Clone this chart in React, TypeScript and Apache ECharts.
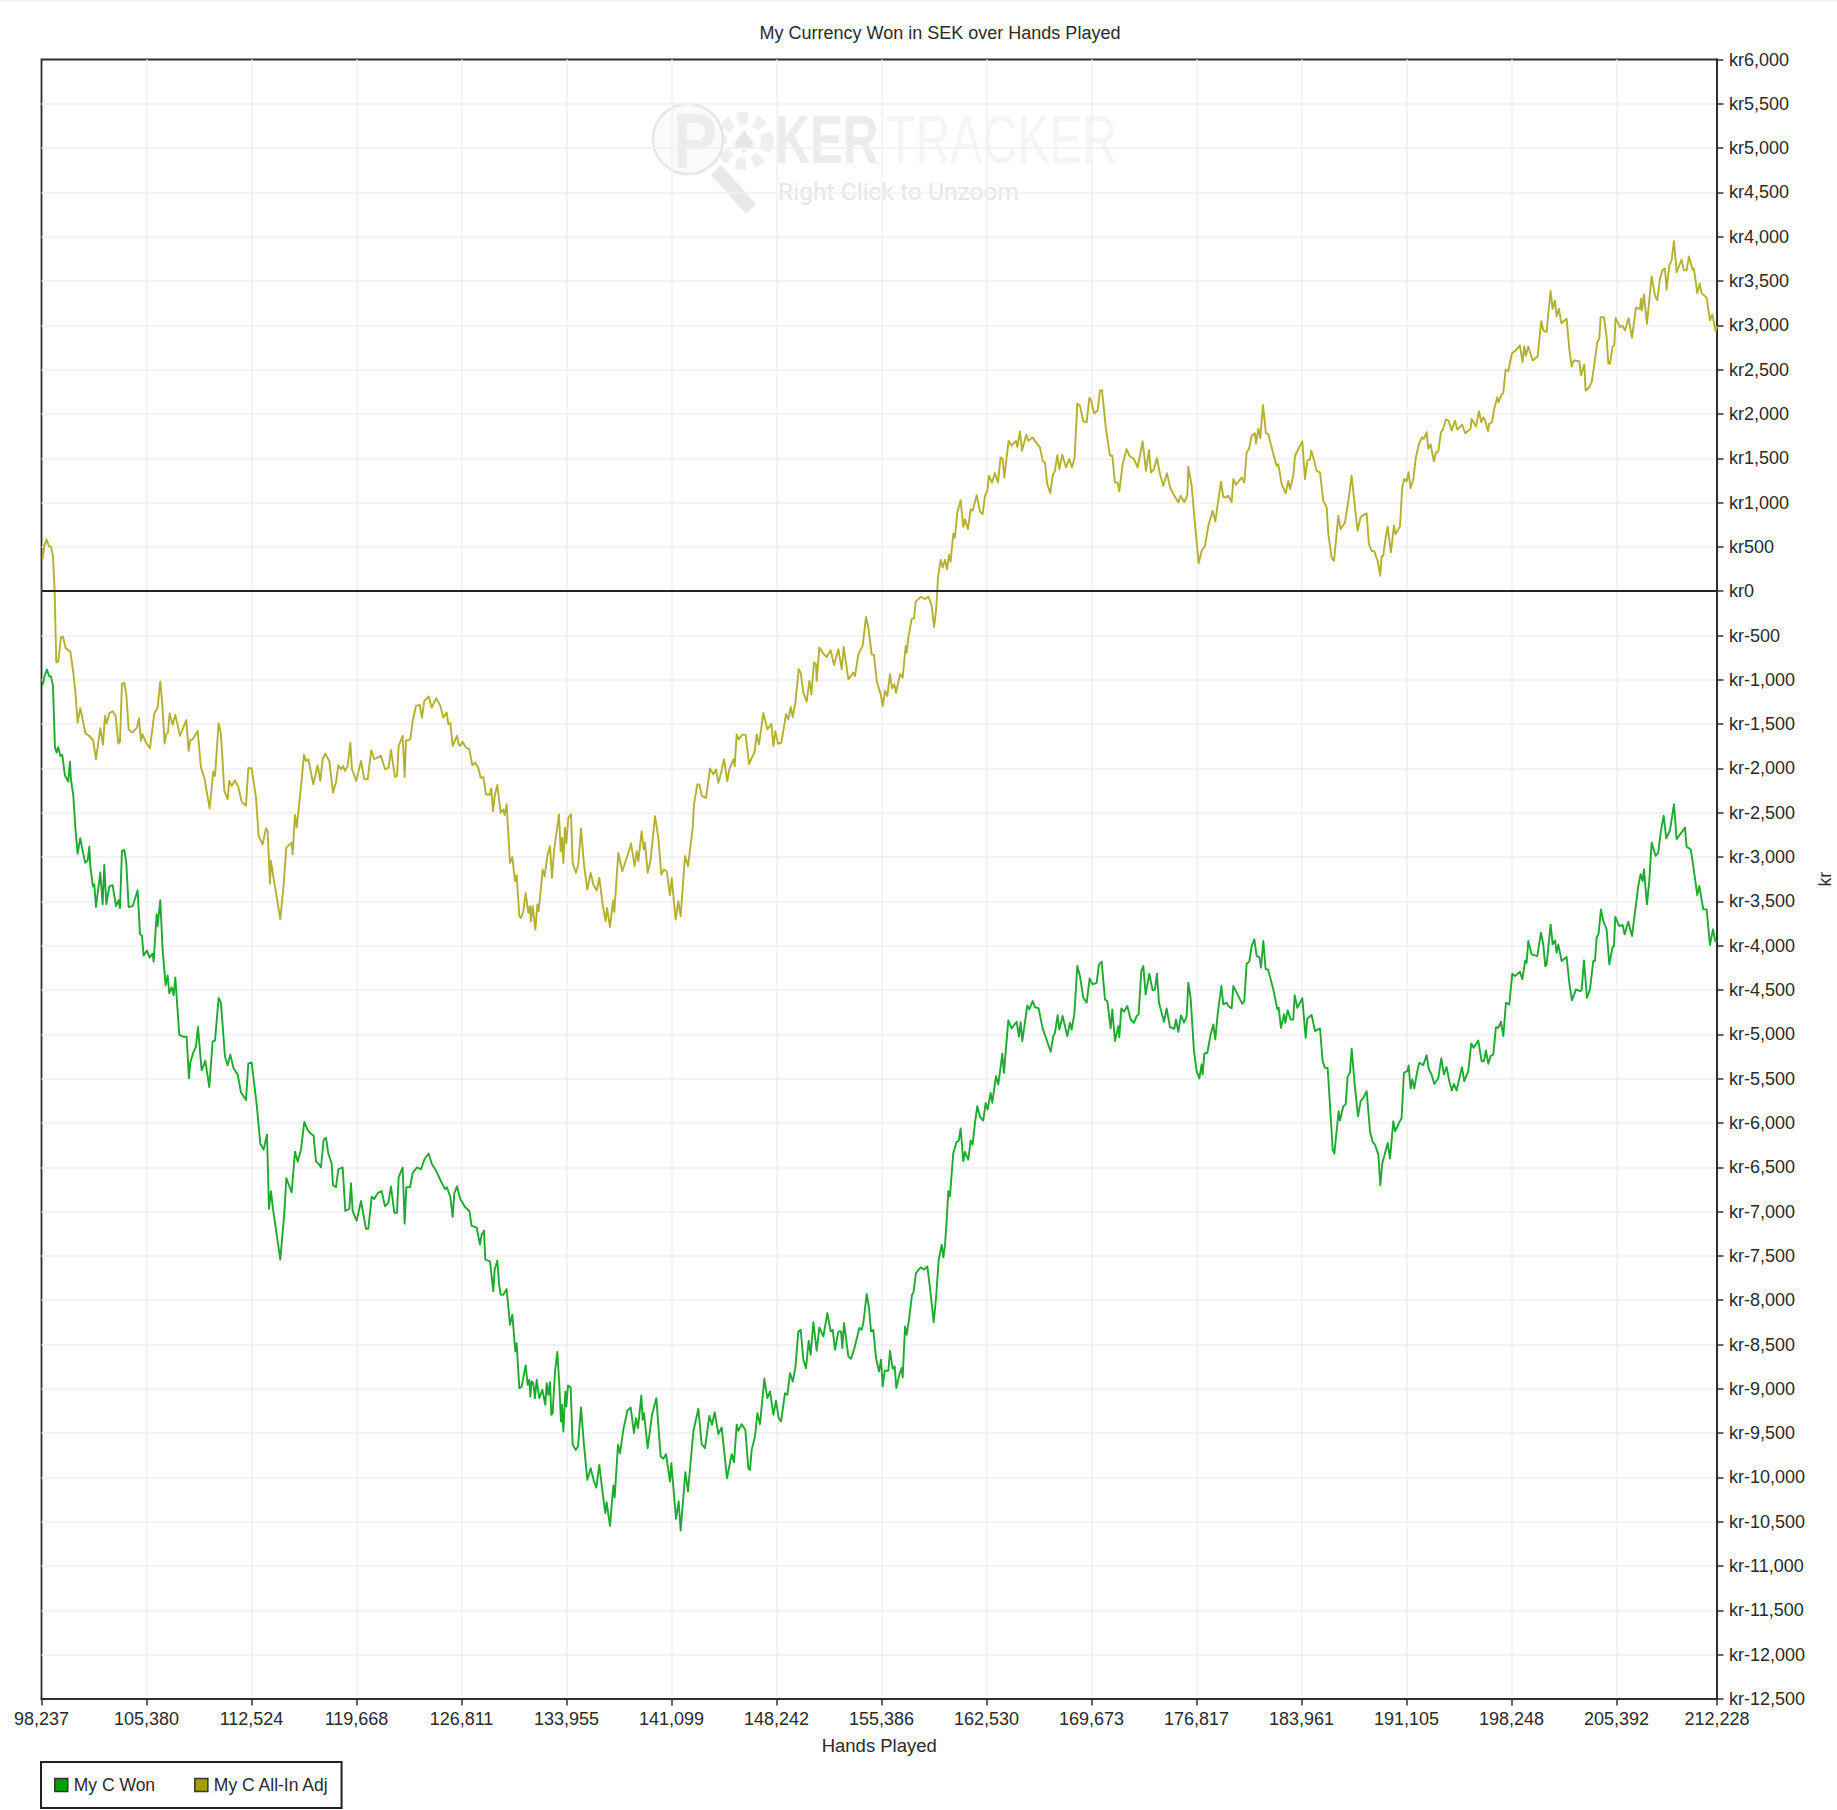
import React, { useEffect, useRef } from "react";
import * as echarts from "echarts";

const titleText = "My Currency Won in SEK over Hands Played";
const xName = "Hands Played";
const yName = "kr";
const handTicks = [98237, 105380, 112524, 119668, 126811, 133955, 141099, 148242, 155386, 162530, 169673, 176817, 183961, 191105, 198248, 205392, 212228];
const wonName = "My C Won";
const adjName = "My C All-In Adj";

const myCAllInAdj: [number, number][] = [
[98313,363],[98427,514],[98586,582],[98744,506],[98880,506],[99016,401],[99130,6],[99243,-804],[99379,-793],[99561,-521],[99697,-514],[99878,-642],[100196,-680],[100355,-860],[100536,-1124],[100695,-1482],[100876,-1320],[101058,-1463],[101216,-1602],[101489,-1632],[101761,-1689],[101942,-1896],[102237,-1546],[102418,-1734],[102555,-1406],[102668,-1493],[102849,-1376],[103076,-1354],[103280,-1406],[103462,-1719],[103575,-1696],[103711,-1049],[103870,-1034],[104006,-1162],[104165,-1557],[104414,-1595],[104732,-1538],[104868,-1436],[105004,-1689],[105095,-1613],[105344,-1707],[105616,-1771],[105911,-1380],[106138,-1312],[106319,-1018],[106456,-1274],[106614,-1719],[106728,-1613],[106841,-1595],[106954,-1380],[107159,-1508],[107340,-1395],[107658,-1632],[108088,-1455],[108247,-1802],[108361,-1681],[108519,-1670],[108860,-1576],[109086,-1990],[109313,-2103],[109676,-2449],[109926,-2035],[110039,-2084],[110288,-1489],[110447,-1613],[110674,-2253],[110901,-2347],[111014,-2140],[111173,-2197],[111400,-2133],[111627,-2208],[111853,-2374],[112148,-2419],[112307,-1997],[112534,-1997],[112829,-2329],[113010,-2762],[113282,-2856],[113509,-2675],[113622,-2705],[113781,-3300],[113849,-3044],[113985,-3195],[114484,-3703],[114711,-3307],[114892,-2893],[115255,-2837],[115323,-2969],[115482,-2524],[115596,-2667],[115936,-2133],[116095,-1847],[116231,-1915],[116390,-1896],[116730,-2178],[117024,-1964],[117206,-2140],[117365,-1896],[117546,-1832],[117818,-1915],[118068,-2272],[118272,-2159],[118431,-1964],[118612,-2009],[118748,-1971],[118884,-2028],[119066,-1971],[119247,-1707],[119360,-2009],[119655,-2140],[119973,-1915],[120200,-2122],[120426,-2122],[120676,-1794],[120880,-1896],[121334,-1858],[121606,-2009],[121855,-1990],[122014,-1794],[122286,-2095],[122422,-2084],[122536,-1745],[122808,-1632],[122944,-2095],[123035,-1689],[123329,-1670],[123488,-1470],[123715,-1293],[123964,-1282],[124123,-1425],[124282,-1237],[124577,-1188],[124781,-1312],[125099,-1207],[125371,-1293],[125575,-1425],[125802,-1369],[125915,-1500],[126051,-1489],[126210,-1745],[126505,-1632],[126618,-1726],
[126708,-1747],[126889,-1698],[127116,-1766],[127343,-1785],[127547,-1965],[127729,-1935],[127955,-1992],[128114,-2105],[128296,-2097],[128477,-2293],[128749,-2293],[128840,-2225],[128953,-2481],[129089,-2293],[129248,-2187],[129475,-2500],[129656,-2462],[129747,-2526],[129883,-2406],[130110,-3065],[130269,-3001],[130450,-3272],[130564,-3204],[130745,-3667],[130858,-3686],[131017,-3611],[131176,-3404],[131357,-3630],[131471,-3554],[131539,-3724],[131652,-3554],[131834,-3818],[131970,-3535],[132060,-3611],[132333,-3140],[132469,-3215],[132650,-2989],[132832,-2876],[132968,-3234],[133104,-2933],[133444,-2519],[133557,-2933],[133648,-2782],[133739,-3065],[133852,-2669],[133943,-2839],[134079,-2556],[134260,-2519],[134374,-3065],[134601,-3178],[134759,-3084],[134941,-2677],[135145,-3084],[135372,-3366],[135599,-3178],[135780,-3309],[136007,-3377],[136188,-3234],[136415,-3535],[136619,-3724],[136710,-3573],[136914,-3791],[137118,-3490],[137209,-3618],[137481,-2952],[137753,-3159],[138161,-2952],[138343,-2846],[138592,-3102],[138728,-2933],[138842,-3046],[139069,-2707],[139205,-2914],[139295,-2839],[139477,-3178],[139681,-3027],[139976,-2538],[140203,-2782],[140407,-3196],[140588,-3140],[140770,-3159],[140996,-3430],[141110,-3234],[141382,-3705],[141563,-3498],[141722,-3667],[142017,-2989],[142221,-3102],[142539,-2669],[142629,-2406],[142856,-2180],[142992,-2180],[143174,-2312],[143446,-2331],[143718,-1999],[143945,-2067],[144126,-2011],[144285,-2161],[144444,-2067],[144671,-1898],[144897,-2142],[145033,-2011],[145306,-1898],[145396,-1973],[145532,-1615],[145668,-1672],[145941,-1615],[146145,-1623],[146372,-1947],[146757,-1811],[146893,-1615],[147052,-1728],[147347,-1374],[147619,-1559],[147891,-1495],[148027,-1747],[148163,-1578],[148345,-1721],[148572,-1709],[148889,-1389],[149048,-1446],[149207,-1306],[149343,-1419],[149524,-1258],[149751,-881],[149887,-919],[150068,-1145],[150295,-1246],[150476,-1013],[150612,-1163],[150794,-806],[150930,-825],[150975,-1013],[151157,-636],[151429,-704],[151656,-742],[151928,-666],[152155,-832],[152450,-655],[152677,-881],[152813,-629],[153130,-994],[153312,-956],[153470,-919],[153584,-956],[153811,-712],[154105,-617],[154332,-290],[154491,-410],[154718,-712],[154877,-719],[155058,-1013],[155330,-1163],[155466,-1295],[155625,-1126],[155784,-1182],[155965,-937],[156101,-1096],[156260,-1050],[156373,-1145],[156646,-937],[156827,-975],[157031,-617],[157099,-693],[157213,-523],[157440,-309],[157599,-309],[157712,-117],[158052,-64],[158347,-90],[158574,-60],[158801,-166],[158960,-403],[159095,-222],[159231,154],
[159408,354],[159544,267],[159703,354],[159839,248],[159975,410],[160088,331],[160270,651],[160383,606],[160542,889],[160769,1028],[160950,727],[161063,813],[161268,700],[161449,926],[161585,907],[161857,1084],[162084,900],[162265,870],[162424,1077],[162583,1133],[162696,1303],[162900,1227],[163105,1333],[163309,1227],[163490,1510],[163626,1491],[163740,1284],[164034,1698],[164239,1642],[164533,1698],[164624,1630],[164806,1800],[164942,1585],[165236,1766],[165373,1698],[165667,1736],[165894,1679],[166166,1623],[166348,1472],[166507,1453],[166665,1209],[166869,1107],[167028,1303],[167187,1359],[167346,1536],[167482,1378],[167686,1540],[167935,1397],[168162,1491],[168344,1397],[168525,1510],[168707,2120],[168888,2093],[169115,1916],[169342,1905],[169523,2180],[169659,2150],[169841,2007],[170090,2037],[170249,2263],[170385,2270],[170657,1830],[170929,1529],[171088,1529],[171269,1227],[171451,1227],[171564,1126],[171791,1434],[172063,1604],[172245,1529],[172562,1491],[172812,1397],[173152,1690],[173379,1359],[173583,1593],[173719,1340],[173923,1378],[174127,1502],[174331,1322],[174558,1190],[174807,1333],[175012,1178],[175238,1096],[175579,1005],[175737,1077],[175987,1005],[176191,1084],[176259,1404],[176486,1190],[176713,757],[176962,316],[177166,456],[177393,512],[177620,738],[177915,907],[178096,787],[178482,1235],[178640,1066],[178867,1058],[178981,1077],[179207,1005],[179321,1265],[179503,1201],[179888,1284],[180069,1227],[180228,1566],[180387,1604],[180569,1754],[180795,1781],[180863,1668],[181022,1830],[181158,1728],[181339,2101],[181543,1781],[181702,1773],[182042,1547],[182269,1416],[182383,1434],[182609,1209],[182882,1107],[183063,1246],[183176,1152],[183403,1303],[183517,1529],[183743,1604],[184016,1690],[184197,1265],[184356,1472],[184537,1491],[184628,1585],[184764,1510],[184991,1359],[185218,1340],[185444,1020],[185671,945],[185785,644],[186011,380],[186170,343],[186465,851],[186624,700],[186919,776],[187213,1096],
[187368,1305],[187572,985],[187776,683],[187980,834],[188116,853],[188388,879],[188547,533],[188729,457],[188910,450],[189137,344],[189318,175],[189409,390],[189522,401],[189636,552],[189817,729],[190044,439],[190248,740],[190362,646],[190656,729],[190815,1173],[190951,1267],[191110,1241],[191246,1342],[191382,1162],[191564,1267],[191745,1512],[191949,1662],[192153,1737],[192289,1719],[192471,1794],[192584,1606],[192743,1655],[192970,1467],[193106,1568],[193265,1579],[193446,1794],[193559,1813],[193786,1937],[193968,1926],[194172,1813],[194399,1926],[194557,1824],[194875,1881],[195102,1783],[195465,1832],[195533,1945],[195827,1858],[196032,2031],[196190,1907],[196326,1963],[196462,1926],[196644,1805],[196735,1888],[196916,1907],[197075,2058],[197279,2189],[197370,2133],[197574,2220],[197687,2235],[197846,2502],[198027,2483],[198277,2686],[198526,2716],[198821,2773],[199003,2585],[199116,2762],[199229,2660],[199388,2762],[199683,2604],[200023,2649],[200273,3048],[200409,2943],[200636,2924],[200749,3131],[200908,3387],[201044,3187],[201203,3281],[201316,3101],[201475,3187],[201634,3025],[201996,3074],[202178,2735],[202337,2536],[202473,2604],[202859,2596],[202972,2435],[203198,2559],[203289,2265],[203539,2302],[203698,2359],[203856,2529],[204083,2811],[204219,2848],[204310,3093],[204537,3093],[204718,2867],[204832,2574],[204945,2566],[205127,2762],[205240,2773],[205331,3085],[205625,2980],[205784,2999],[205965,2943],[206215,3082],[206442,2860],[206714,3198],[206986,3187],[207054,3300],[207122,3169],[207258,3349],[207462,3017],[207780,3552],[208007,3338],[208165,3281],[208347,3526],[208528,3627],[208687,3639],[208800,3402],[208982,3676],[209141,3733],[209300,3951],[209481,3601],[209821,3741],[209980,3620],[210161,3620],[210320,3778],[210569,3627],[210660,3639],[210887,3364],[211046,3470],[211182,3364],[211522,3311],[211749,3056],[211908,3123],[212134,2935],[212228,2990],
];

const myCWon: [number, number][] = [
[98313,-1062],[98472,-941],[98608,-883],[98744,-955],[98880,-964],[99016,-1062],[99153,-1759],[99266,-1821],[99379,-1759],[99515,-1857],[99652,-1848],[99833,-2080],[100060,-2147],[100173,-1924],[100241,-2125],[100400,-2303],[100536,-2661],[100695,-2960],[100876,-2786],[101035,-2929],[101216,-3063],[101375,-3040],[101489,-2884],[101557,-3107],[101738,-3331],[101829,-3308],[101942,-3563],[102237,-3174],[102396,-3532],[102509,-3085],[102645,-3532],[102849,-3331],[103076,-3317],[103303,-3554],[103462,-3487],[103575,-3576],[103711,-2929],[103870,-2920],[104006,-3063],[104165,-3563],[104437,-3554],[104777,-3375],[104936,-3866],[105072,-3889],[105185,-4112],[105412,-4054],[105594,-4135],[105798,-4090],[105866,-4179],[106070,-3643],[106138,-3777],[106319,-3487],[106478,-4045],[106682,-4447],[106818,-4335],[106932,-4536],[107091,-4469],[107227,-4559],[107340,-4358],[107612,-5005],[107907,-5028],[108111,-5028],[108270,-5497],[108361,-5318],[108565,-5206],[108746,-5139],[108882,-4916],[109132,-5407],[109381,-5296],[109653,-5595],[109880,-5081],[110039,-5072],[110288,-4590],[110447,-4648],[110719,-5251],[110901,-5349],[111082,-5229],[111309,-5385],[111581,-5452],[111808,-5653],[112148,-5742],[112307,-5331],[112534,-5318],[112874,-5787],[113123,-6234],[113350,-6301],[113577,-6131],[113713,-6970],[113849,-6769],[113985,-6970],[114484,-7542],[114756,-7015],[114892,-6622],[115255,-6783],[115482,-6323],[115664,-6435],[115890,-6301],[116117,-5988],[116344,-6077],[116571,-6122],[116752,-6144],[116911,-6435],[117070,-6457],[117251,-6501],[117433,-6189],[117591,-6167],[117750,-6345],[117977,-6457],[118068,-6702],[118272,-6725],[118431,-6524],[118725,-6501],[118907,-6993],[119179,-6970],[119292,-6680],[119406,-6993],[119678,-7104],[119973,-6881],[120313,-7194],[120472,-7194],[120699,-6836],[120880,-6859],[121107,-6792],[121379,-6769],[121606,-6939],[121833,-6903],[122014,-6716],[122241,-7015],[122422,-7015],[122536,-6613],[122808,-6501],[122944,-7136],[123057,-6725],[123307,-6725],[123488,-6568],[123783,-6501],[124055,-6524],[124282,-6412],[124577,-6345],[124781,-6457],[125099,-6546],[125416,-6658],[125688,-6747],[125824,-6725],[126051,-6836],[126210,-7060],[126323,-6792],[126505,-6716],[126731,-6859],[127049,-6948],[127344,-6993],[127503,-7162],[127843,-7180],[128069,-7373],
[128182,-7260],[128341,-7215],[128432,-7543],[128749,-7561],[128976,-7900],[129067,-7655],[129248,-7554],[129384,-7844],[129475,-7938],[129657,-7938],[129883,-7874],[130110,-8277],[130269,-8164],[130473,-8578],[130564,-8484],[130745,-8992],[130904,-8973],[131176,-8736],[131312,-8954],[131426,-8898],[131494,-9086],[131584,-8917],[131698,-8936],[131811,-9105],[131925,-8898],[132106,-9105],[132310,-9011],[132514,-9180],[132605,-8936],[132718,-9067],[132832,-8924],[132923,-9293],[133013,-9274],[133172,-8804],[133331,-8585],[133467,-8954],[133580,-9369],[133648,-9180],[133739,-9482],[133875,-9030],[133943,-9199],[134057,-8962],[134238,-8985],[134374,-9632],[134578,-9689],[134737,-9651],[134941,-9210],[135145,-9632],[135372,-10027],[135599,-9896],[135826,-10046],[135984,-10114],[136188,-9858],[136415,-10178],[136597,-10404],[136687,-10280],[136914,-10547],[137141,-10091],[137232,-10227],[137459,-9632],[137595,-9726],[137821,-9463],[138093,-9248],[138320,-9210],[138547,-9500],[138683,-9331],[138819,-9444],[139046,-9075],[139137,-9350],[139228,-9274],[139478,-9670],[139772,-9293],[140067,-9105],[140362,-9764],[140543,-9790],[140725,-9737],[140997,-10046],[141087,-9839],[141405,-10468],[141586,-10272],[141723,-10600],[142040,-9941],[142221,-10159],[142584,-9482],[142925,-9225],[143151,-9625],[143378,-9670],[143673,-9305],[143854,-9406],[144036,-9263],[144285,-9512],[144512,-9436],[144875,-10009],[145192,-9737],[145351,-9828],[145533,-9406],[145646,-9474],[145873,-9399],[146122,-9463],[146326,-9896],[146440,-9915],[146553,-9689],[146780,-9538],[146939,-9274],[147120,-9399],[147415,-8887],[147619,-9105],[147801,-9030],[148027,-9293],[148209,-9135],[148390,-9331],[148549,-9369],[148821,-9049],[148980,-9067],[149161,-8823],[149343,-8917],[149524,-8766],[149728,-8352],[149887,-8333],[150069,-8672],[150250,-8766],[150432,-8457],[150568,-8616],[150749,-8247],[150976,-8570],[151158,-8307],[151430,-8408],[151702,-8145],[151928,-8352],[152065,-8333],[152223,-8559],[152450,-8352],[152632,-8352],[152723,-8540],[152836,-8258],[153131,-8634],[153312,-8661],[153516,-8559],[153879,-8314],[154038,-8333],[154151,-8258],[154378,-7930],[154537,-8088],[154673,-8352],[154832,-8337],[155013,-8653],[155217,-8804],[155353,-8672],[155467,-8973],[155603,-8796],[155852,-8796],[155965,-8570],[156147,-8774],[156283,-8747],[156396,-8992],[156600,-8841],[156759,-8766],[156827,-8872],[156986,-8296],[157099,-8390],[157258,-8220],[157462,-7938],[157553,-7919],[157734,-7693],[158052,-7629],[158279,-7655],[158505,-7618],[158687,-7863],[158936,-8247],[159095,-7976],[159277,-7543],[159481,-7373],[159594,-7516],[159707,-7373],
[159816,-7110],[159930,-6771],[160043,-6827],[160270,-6338],[160497,-6213],[160633,-6206],[160769,-6063],[160950,-6432],[161064,-6326],[161291,-6413],[161449,-6198],[161585,-6244],[161744,-5999],[161903,-5811],[162084,-5931],[162311,-5973],[162470,-5773],[162606,-5848],[162810,-5660],[162924,-5773],[163173,-5472],[163332,-5566],[163604,-5219],[163717,-5434],[164012,-4843],[164239,-4933],[164579,-4858],[164738,-5027],[164851,-4862],[164965,-5076],[165305,-4674],[165441,-4719],[165668,-4625],[165827,-4692],[166076,-4707],[166348,-4933],[166575,-5039],[166893,-5197],[167074,-5020],[167187,-4982],[167369,-4783],[167482,-4945],[167709,-4794],[168027,-5020],[168208,-4869],[168321,-4945],[168503,-4775],[168707,-4229],[168888,-4342],[169115,-4587],[169342,-4643],[169546,-4369],[169750,-4436],[170022,-4418],[170181,-4210],[170363,-4180],[170589,-4606],[170748,-4625],[170975,-4933],[171088,-4719],[171270,-5076],[171497,-4907],[171565,-5031],[171701,-4707],[171882,-4745],[172109,-4681],[172336,-4832],[172563,-4869],[172744,-4794],[172880,-4775],[173062,-4286],[173198,-4229],[173356,-4549],[173606,-4316],[173833,-4504],[173991,-4493],[174127,-4316],[174264,-4643],[174604,-4858],[174785,-4707],[175012,-4918],[175307,-4937],[175420,-4832],[175579,-4971],[175760,-4786],[175965,-4869],[176146,-4794],[176259,-4418],[176418,-4594],[176645,-5189],[176826,-5415],[177008,-5498],[177167,-5340],[177235,-5453],[177348,-5219],[177552,-5208],[177779,-5001],[177960,-4888],[178096,-5058],[178255,-4775],[178505,-4455],[178641,-4662],[178868,-4643],[178981,-4681],[179208,-4707],[179321,-4455],[179548,-4530],[179775,-4606],[179934,-4655],[180070,-4625],[180228,-4203],[180410,-4180],[180569,-4003],[180750,-3928],[180909,-4116],[181090,-4128],[181204,-4248],[181362,-3947],[181521,-4267],[181680,-4267],[182043,-4493],[182315,-4719],[182406,-4700],[182564,-4926],[182769,-4775],[182859,-4869],[183018,-4730],[183222,-4832],[183404,-4832],[183494,-4557],[183676,-4700],[184016,-4594],[184243,-5039],[184356,-4820],[184651,-4783],[184878,-4963],[185218,-4933],[185399,-5302],[185558,-5378],[185739,-5378],[185966,-5980],[186080,-6300],[186193,-6345],[186488,-5867],[186579,-5973],[186806,-5811],[186964,-5792],[187100,-5472],[187259,-5434],[187373,-5163],[187600,-5604],[187804,-5924],[187985,-5754],[188166,-5716],[188393,-5641],[188620,-6093],[188801,-6213],[188960,-6244],[189187,-6357],[189323,-6703],[189459,-6451],[189618,-6357],[189822,-6225],[189981,-6402],[190208,-5980],[190321,-6093],[190661,-5980],
[190770,-5943],[190929,-5434],[191156,-5416],[191246,-5352],[191383,-5611],[191496,-5510],[191632,-5611],[191836,-5416],[191972,-5321],[192244,-5348],[192471,-5235],[192630,-5397],[192811,-5453],[192993,-5559],[193265,-5498],[193469,-5272],[193651,-5453],[193832,-5370],[194013,-5529],[194195,-5634],[194331,-5559],[194512,-5634],[194875,-5370],[195034,-5529],[195306,-5416],[195510,-5103],[195669,-5152],[195987,-5069],[196213,-5303],[196372,-5303],[196508,-5182],[196667,-5333],[196826,-5246],[197007,-5227],[197189,-4919],[197347,-4926],[197529,-4858],[197688,-5020],[197869,-4644],[198096,-4663],[198300,-4316],[198481,-4343],[198822,-4294],[198981,-4380],[199184,-4166],[199275,-4192],[199389,-3947],[199616,-4098],[200001,-4117],[200251,-3853],[200409,-3985],[200545,-4230],[200636,-4211],[200772,-3985],[200908,-3759],[201044,-3985],[201203,-3940],[201316,-4079],[201430,-3985],[201657,-4173],[201997,-4128],[202178,-4418],[202360,-4617],[202632,-4493],[202904,-4512],[203017,-4504],[203176,-4166],[203380,-4587],[203584,-4493],[203811,-4173],[203925,-4173],[204038,-3910],[204174,-3864],[204333,-3590],[204492,-3721],[204718,-3815],[204900,-4211],[205127,-4015],[205217,-4004],[205308,-3676],[205580,-3778],[205807,-3766],[205943,-3872],[206193,-3729],[206442,-3891],[206646,-3627],[206873,-3326],[207032,-3194],[207168,-3270],[207259,-3138],[207463,-3533],[207622,-3270],[207780,-2837],[208053,-2987],[208234,-2949],[208393,-2724],[208597,-2535],[208779,-2788],[209028,-2697],[209300,-2404],[209481,-2799],[210048,-2667],[210162,-2885],[210434,-2912],[210570,-3051],[210887,-3428],[211023,-3326],[211295,-3590],[211522,-3590],[211749,-3992],[211953,-3815],[212112,-3947],[212228,-3950],
];

const FONT = "'Liberation Sans', Arial, sans-serif";
const INK = "#2a2a2a";

const formatHands = (v: number) => v.toLocaleString("en-US");
const formatKr = (v: number) => "kr" + (v < 0 ? "-" : "") + Math.abs(v).toLocaleString("en-US");

export default function App() {
  const ref = useRef<HTMLDivElement>(null);
  useEffect(() => {
    const chart = echarts.init(ref.current!, undefined, { renderer: "svg" });
    chart.setOption({
      animation: false,
      backgroundColor: "#ffffff",
      title: {
        text: titleText,
        left: 935,
        top: 19,
        textAlign: "center",
        textStyle: { fontFamily: FONT, fontSize: 18, fontWeight: "normal", color: INK },
      },
      grid: {
        left: 41.5,
        right: 120,
        top: 59.5,
        bottom: 111,
        show: true,
        outerBoundsMode: "none",
        borderColor: "#2e2e2e",
        borderWidth: 1.8,
        backgroundColor: "transparent",
      },
      legend: {
        left: 41,
        top: 1762,
        orient: "horizontal",
        padding: [14, 12, 14, 13],
        borderColor: "#222222",
        borderWidth: 2,
        backgroundColor: "#ffffff",
        itemWidth: 13,
        itemHeight: 13,
        itemGap: 39,
        selectedMode: false,
        textStyle: { fontFamily: FONT, fontSize: 17.5, color: INK, padding: [0, 0, 0, 1] },
        data: [
          { name: wonName, icon: "rect", itemStyle: { color: "#00a000", borderColor: "#333333", borderWidth: 1.5 } },
          { name: adjName, icon: "rect", itemStyle: { color: "#a0a000", borderColor: "#333333", borderWidth: 1.5 } },
        ],
      },
      xAxis: {
        type: "value",
        min: handTicks[0],
        max: handTicks[handTicks.length - 1],
        name: xName,
        nameLocation: "middle",
        nameGap: 37,
        nameTextStyle: { fontFamily: FONT, fontSize: 18.5, color: INK },
        axisLine: { onZero: false, lineStyle: { color: "#2e2e2e", width: 2 } },
        axisTick: { show: true, length: 6.5, customValues: handTicks, lineStyle: { color: "#333333", width: 1.5 } },
        axisLabel: {
          customValues: handTicks,
          formatter: (v: number) => formatHands(v),
          margin: 11,
          fontFamily: FONT,
          fontSize: 18,
          color: INK,
          hideOverlap: false,
        },
        splitLine: { show: true, showMinLine: false, showMaxLine: false, customValues: handTicks, lineStyle: { color: "#f0f0f0", width: 1.5 } },
      },
      yAxis: {
        type: "value",
        position: "right",
        min: -12500,
        max: 6000,
        interval: 500,
        name: yName,
        nameLocation: "middle",
        nameRotate: 90,
        nameGap: 99,
        nameTextStyle: { fontFamily: FONT, fontSize: 17.5, color: INK },
        axisLine: { show: true, onZero: false, lineStyle: { color: "#2e2e2e", width: 2 } },
        axisTick: { show: true, length: 6.5, lineStyle: { color: "#333333", width: 1.5 } },
        axisLabel: { formatter: (v: number) => formatKr(v), margin: 12, fontFamily: FONT, fontSize: 18, color: INK },
        splitLine: { show: true, showMinLine: false, showMaxLine: false, lineStyle: { color: "#f0f0f0", width: 1.5 } },
      },
      series: [
        {
          name: wonName,
          type: "line",
          data: myCWon,
          showSymbol: false,
          symbol: "none",
          z: 3,
          lineStyle: { color: "#1eaa30", width: 1.9, join: "round" },
          itemStyle: { color: "#00a000" },
          markLine: {
            silent: true,
            symbol: "none",
            label: { show: false },
            lineStyle: { color: "#222222", width: 1.8, type: "solid" },
            data: [{ yAxis: 0 }],
          },
        },
        {
          name: adjName,
          type: "line",
          data: myCAllInAdj,
          showSymbol: false,
          symbol: "none",
          z: 3,
          lineStyle: { color: "#b4b130", width: 1.9, join: "round" },
          itemStyle: { color: "#a0a000" },
        },
      ],
      graphic: [
        { type: "line", silent: true, shape: { x1: 0, y1: 0.5, x2: 1837, y2: 0.5 }, style: { stroke: "#eeeeee", lineWidth: 1.5 } },
        {
          type: "group",
          silent: true,
          z: -1,
          children: [
            { type: "circle", shape: { cx: 744, cy: 141, r: 23 }, style: { fill: "none", stroke: "#efefef", lineWidth: 12, lineDash: [10, 7] } },
            { type: "text", x: 744, y: 141, style: { text: "\u2660", fontFamily: "'DejaVu Sans'", fontSize: 30, fill: "#e6e6e6", align: "center", verticalAlign: "middle" } },
            { type: "circle", shape: { cx: 688, cy: 139, r: 35 }, style: { fill: "#fafafa", stroke: "#e6e6e6", lineWidth: 2.5 } },
            { type: "text", x: 695, y: 141, scaleX: 0.85, style: { text: "P", fontFamily: FONT, fontWeight: "bold", fontSize: 78, fill: "#ececec", align: "center", verticalAlign: "middle" } },
            { type: "line", shape: { x1: 716, y1: 170, x2: 751, y2: 209 }, style: { stroke: "#e9e9e9", lineWidth: 14 } },
            { type: "text", x: 775, y: 139, scaleX: 0.71, style: { text: "KER", fontFamily: FONT, fontWeight: "bold", fontSize: 69, fill: "#ececec", align: "left", verticalAlign: "middle" } },
            { type: "text", x: 886, y: 139, scaleX: 0.7, style: { text: "TRACKER", fontFamily: FONT, fontSize: 69, fill: "#f5f5f5", align: "left", verticalAlign: "middle" } },
            { type: "text", x: 778, y: 191, style: { text: "Right Click to Unzoom", fontFamily: "Roboto, " + FONT, fontSize: 24.6, fill: "#e6e6e6", align: "left", verticalAlign: "middle" } },
          ],
        },
      ],
    });
    return () => chart.dispose();
  }, []);
  return <div ref={ref} style={{ position: "absolute", left: 0, top: 0, width: 1837, height: 1810 }} />;
}
